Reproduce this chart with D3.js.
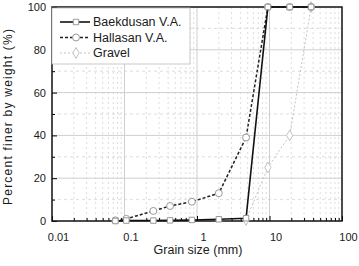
<!DOCTYPE html>
<html>
<head>
<meta charset="utf-8">
<script src="https://cdn.jsdelivr.net/npm/d3@7"></script>
<style>
  body { margin: 0; background: #fff; }
  svg { display: block; font-family: "Liberation Sans", Arial, sans-serif; }
</style>
</head>
<body>
<svg id="chart" width="359" height="266"></svg>
<script>
// sieve sizes (mm) and percent passing
var sizes = [0.075, 0.106, 0.25, 0.425, 0.85, 2.0, 4.75, 9.5, 19, 37.5];
var baekdusan = [0, 0.2, 0.2, 0.3, 0.5, 0.8, 1.3, 100, 100, 100];
var hallasan = [0.3, 1, 4.7, 7, 9, 13, 39, 100, 100, 100];
var gravelSizes = [4.75, 9.5, 19, 37.5];
var gravel = [0.5, 25, 40, 100];

var xTicks = [0.01, 0.1, 1, 10, 100];
var xTickLabels = ["0.01", "0.1", "1", "10", "100"];
var yTicks = [0, 20, 40, 60, 80, 100];

var svg = d3.select("#chart");
var margin = {top: 7, right: 17, bottom: 45, left: 52},
    width = +svg.attr("width") - margin.left - margin.right,
    height = +svg.attr("height") - margin.top - margin.bottom,
    g = svg.append("g").attr("transform", "translate(" + margin.left + "," + margin.top + ")");

var x = d3.scaleLog().domain([0.01, 100]).range([0, width]);
var y = d3.scaleLinear().domain([0, 100]).range([height, 0]);

// minor positions on the log axis
var minorX = [];
[0.01, 0.1, 1, 10].forEach(function(d) {
  for (var k = 2; k <= 9; k++) minorX.push(d * k);
});
var minorY = [10, 30, 50, 70, 90];

// grid
g.append("g").selectAll("line")
  .data(minorX)
  .enter().append("line")
    .attr("x1", function(d) { return x(d); })
    .attr("x2", function(d) { return x(d); })
    .attr("y1", 0).attr("y2", height)
    .attr("stroke", "#d4d4d4")
    .attr("stroke-width", 0.8)
    .attr("stroke-dasharray", "2,3");

g.append("g").selectAll("line")
  .data(minorY)
  .enter().append("line")
    .attr("x1", 0).attr("x2", width)
    .attr("y1", function(d) { return y(d); })
    .attr("y2", function(d) { return y(d); })
    .attr("stroke", "#d4d4d4")
    .attr("stroke-width", 0.8)
    .attr("stroke-dasharray", "3,3");

g.append("g").selectAll("line")
  .data(xTicks.slice(1, -1))
  .enter().append("line")
    .attr("x1", function(d) { return x(d); })
    .attr("x2", function(d) { return x(d); })
    .attr("y1", 0).attr("y2", height)
    .attr("stroke", "#cfcfcf");

g.append("g").selectAll("line")
  .data(yTicks.slice(1, -1))
  .enter().append("line")
    .attr("x1", 0).attr("x2", width)
    .attr("y1", function(d) { return y(d); })
    .attr("y2", function(d) { return y(d); })
    .attr("stroke", "#cfcfcf");

// axes (inward ticks)
g.append("g")
    .attr("transform", "translate(0," + height + ")")
    .call(d3.axisBottom(x).tickValues(minorX).tickSize(-3).tickFormat(""))
    .call(function(a) { a.select(".domain").remove(); });

g.append("g")
    .attr("transform", "translate(0," + height + ")")
    .call(d3.axisBottom(x).tickValues(xTicks).tickSize(-5).tickPadding(12)
      .tickFormat(function(d, i) { return xTickLabels[i]; }))
    .call(function(a) {
      a.select(".domain").remove();
      a.selectAll("text").attr("font-size", 11).attr("fill", "#1a1a1a")
        .attr("dx", 6).attr("font-family", "Liberation Sans, Arial, sans-serif");
    });

g.append("g")
    .call(d3.axisLeft(y).tickValues(minorY).tickSize(-3).tickFormat(""))
    .call(function(a) { a.select(".domain").remove(); });

g.append("g")
    .call(d3.axisLeft(y).tickValues(yTicks).tickSize(-5).tickPadding(6))
    .call(function(a) {
      a.select(".domain").remove();
      a.selectAll("text").attr("font-size", 11).attr("fill", "#1a1a1a")
        .attr("font-family", "Liberation Sans, Arial, sans-serif");
    });

// frame
g.append("rect")
    .attr("width", width)
    .attr("height", height)
    .attr("fill", "none")
    .attr("stroke", "#111")
    .attr("stroke-width", 1.5);

// series
var line = d3.line()
    .x(function(d) { return x(d[0]); })
    .y(function(d) { return y(d[1]); });

var series = [
  {name: "Baekdusan V.A.", pts: d3.zip(sizes, baekdusan), color: "#111", width: 1.6, dash: null, sym: d3.symbolSquare, symSize: 30, mcol: "#999"},
  {name: "Hallasan V.A.", pts: d3.zip(sizes, hallasan), color: "#222", width: 1.5, dash: "3,2", sym: d3.symbolCircle, symSize: 38, mcol: "#999"},
  {name: "Gravel", pts: d3.zip(gravelSizes, gravel), color: "#c4c4c4", width: 1, dash: "2,2", sym: d3.symbolDiamond, symSize: 34, mcol: "#c4c4c4"}
];

series.slice().reverse().forEach(function(s) {
  g.append("path")
      .datum(s.pts)
      .attr("d", line)
      .attr("fill", "none")
      .attr("stroke", s.color)
      .attr("stroke-width", s.width)
      .attr("stroke-dasharray", s.dash);

  g.append("g").selectAll("path")
    .data(s.pts)
    .enter().append("path")
      .attr("transform", function(d) { return "translate(" + x(d[0]) + "," + y(d[1]) + ")"; })
      .attr("d", d3.symbol().type(s.sym).size(s.symSize))
      .attr("fill", "#fff")
      .attr("stroke", s.mcol)
      .attr("stroke-width", 1);
});

// legend
g.append("rect")
    .attr("x", 0).attr("y", 1)
    .attr("width", 138).attr("height", 56)
    .attr("fill", "#fff")
    .attr("stroke", "#bbb")
    .attr("stroke-width", 0.8);

var legend = g.append("g")
  .selectAll("g")
  .data(series)
  .enter().append("g")
    .attr("transform", function(d, i) { return "translate(0," + (15 + i * 15.5) + ")"; });

legend.append("line")
    .attr("x1", 8).attr("x2", 38)
    .attr("stroke", function(d) { return d.color; })
    .attr("stroke-width", function(d) { return d.width; })
    .attr("stroke-dasharray", function(d) { return d.dash; });

legend.append("path")
    .attr("transform", "translate(24,0)")
    .attr("d", function(d) { return d3.symbol().type(d.sym).size(d.symSize)(); })
    .attr("fill", "#fff")
    .attr("stroke", function(d) { return d.mcol; });

legend.append("text")
    .attr("x", 41)
    .attr("dy", "0.35em")
    .attr("font-size", 12.5)
    .attr("fill", "#1a1a1a")
    .text(function(d) { return d.name; });

// axis titles
svg.append("text")
    .attr("transform", "translate(12,117) rotate(-90)")
    .attr("text-anchor", "middle")
    .attr("font-size", 12)
    .attr("textLength", 176)
    .attr("lengthAdjust", "spacing")
    .attr("fill", "#1a1a1a")
    .text("Percent finer by weight (%)");

svg.append("text")
    .attr("x", 198)
    .attr("y", 254)
    .attr("text-anchor", "middle")
    .attr("font-size", 12.5)
    .attr("fill", "#1a1a1a")
    .text("Grain size (mm)");
</script>
</body>
</html>
